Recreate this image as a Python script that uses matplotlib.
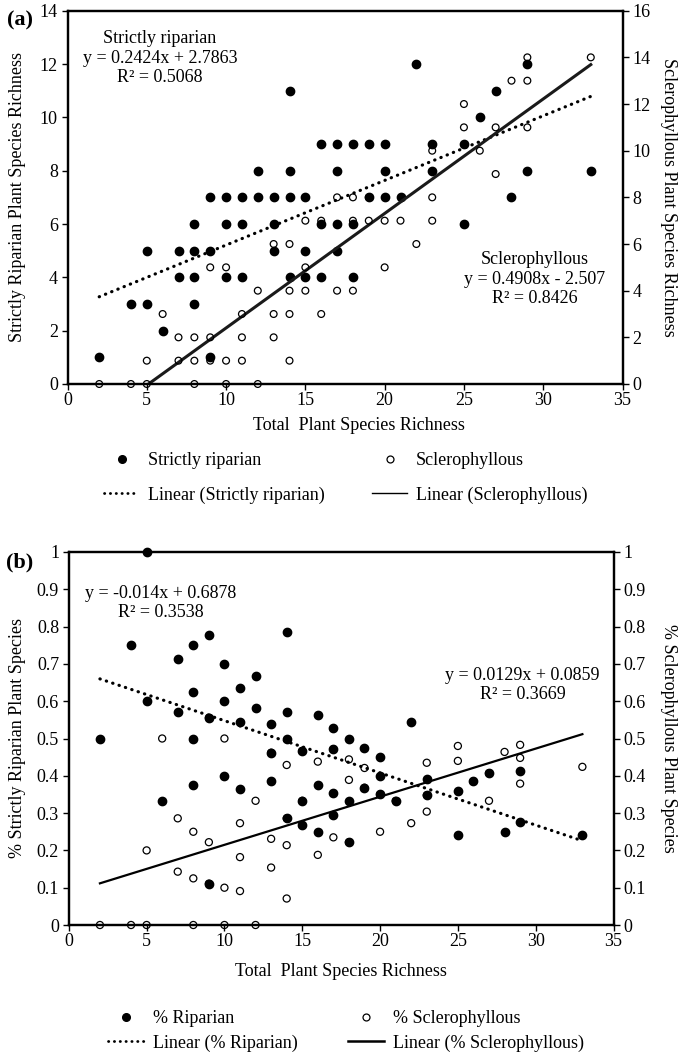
import matplotlib
matplotlib.use('Agg')
import matplotlib.pyplot as plt
from matplotlib.lines import Line2D
from matplotlib.ticker import MultipleLocator, FuncFormatter

plt.rcParams['font.family'] = ['Liberation Serif', 'DejaVu Serif']
plt.rcParams['font.size'] = 13
plt.rcParams['text.color'] = 'black'

# ---------------- data ----------------
# strictly riparian: total richness, riparian count, proportion riparian
x_rip = [2, 4, 5, 5, 6, 7, 7, 8, 8, 8, 8, 9, 9, 9, 10, 10, 10, 11, 11, 11,
         12, 12, 13, 13, 13, 14, 14, 14, 14, 15, 15, 15, 16, 16, 16,
         17, 17, 17, 17, 18, 18, 18, 19, 19, 20, 20, 20, 21, 22, 23, 23,
         25, 25, 26, 27, 28, 29, 29, 33]
rip_count = [1, 3, 5, 3, 2, 5, 4, 6, 5, 4, 3, 7, 5, 1, 7, 6, 4, 7, 6, 4,
             8, 7, 7, 6, 5, 11, 8, 7, 4, 7, 5, 4, 9, 6, 4,
             9, 8, 6, 5, 9, 6, 4, 9, 7, 9, 8, 7, 7, 12, 9, 8,
             9, 6, 10, 11, 7, 12, 8, 8]
rip_pct = [0.5, 0.75, 1.0, 0.6, 0.333, 0.714, 0.571, 0.75, 0.625, 0.5, 0.375,
           0.778, 0.556, 0.111, 0.7, 0.6, 0.4, 0.636, 0.545, 0.364,
           0.667, 0.583, 0.538, 0.462, 0.385, 0.786, 0.571, 0.5, 0.286,
           0.467, 0.333, 0.267, 0.563, 0.375, 0.25,
           0.529, 0.471, 0.353, 0.294, 0.5, 0.333, 0.222, 0.474, 0.368,
           0.45, 0.4, 0.35, 0.333, 0.545, 0.391, 0.348,
           0.36, 0.24, 0.385, 0.407, 0.25, 0.414, 0.276, 0.242]

# sclerophyllous: total richness, sclerophyllous count, proportion sclerophyllous
x_scl = [2, 4, 5, 5, 6, 7, 7, 8, 8, 8, 9, 9, 9, 10, 10, 10, 11, 11, 11,
         12, 12, 13, 13, 13, 14, 14, 14, 14, 15, 15, 15, 16, 16, 17, 17,
         18, 18, 18, 19, 19, 20, 20, 21, 22, 23, 23, 23, 25, 25, 26,
         27, 27, 28, 29, 29, 29, 33]
scl_count = [0, 0, 1, 0, 3, 2, 1, 2, 1, 0, 5, 2, 1, 5, 1, 0, 3, 2, 1,
             4, 0, 6, 3, 2, 6, 4, 3, 1, 7, 5, 4, 7, 3, 8, 4,
             8, 7, 4, 8, 7, 7, 5, 7, 6, 10, 8, 7, 12, 11, 10,
             11, 9, 13, 14, 13, 11, 14]
scl_pct = [0, 0, 0.2, 0, 0.5, 0.286, 0.143, 0.25, 0.125, 0, 0.556, 0.222, 0.111,
           0.5, 0.1, 0, 0.273, 0.182, 0.091, 0.333, 0, 0.462, 0.231, 0.154,
           0.429, 0.286, 0.214, 0.071, 0.467, 0.333, 0.267, 0.438, 0.188,
           0.471, 0.235, 0.444, 0.389, 0.222, 0.421, 0.368, 0.35, 0.25,
           0.333, 0.273, 0.435, 0.348, 0.304, 0.48, 0.44, 0.385,
           0.407, 0.333, 0.464, 0.483, 0.448, 0.379, 0.424]

# linear trend lines (slope, intercept) shown on the chart
trend_x = [2, 33]
fit_a_rip = (0.2424, 2.7863)
fit_a_scl = (0.4908, -2.507)
fit_b_rip = (-0.014, 0.6878)
fit_b_scl = (0.0129, 0.0859)

x_ticks = [0, 5, 10, 15, 20, 25, 30, 35]

W, H = 684, 1056
fig = plt.figure(figsize=(W / 100, H / 100), dpi=100)


def line_vals(fit):
    return [fit[0] * v + fit[1] for v in trend_x]


def style(ax, ax2):
    for a in (ax, ax2):
        for s in a.spines.values():
            s.set_linewidth(1.6)
            s.set_color('black')
    ax.tick_params(axis='y', direction='out', length=4, width=1.0, pad=3, labelsize=13)
    ax.tick_params(axis='x', direction='out', length=4, width=1.0, pad=1.5, labelsize=13)
    ax2.tick_params(axis='y', direction='out', length=4, width=1.0, pad=3, labelsize=13)
    ax.set_xlim(0, 35)
    ax.set_xticks(x_ticks)


DOT = (0, (0.1, 2.0))
fmt = FuncFormatter(lambda v, p: '%g' % round(v, 2))

# ---------------- panel (a) ----------------
axA = fig.add_axes([67.5 / W, 1 - 384 / H, 555 / W, 373.3 / H])
axA2 = axA.twinx()
style(axA, axA2)
axA.set_ylim(0, 14)
axA.yaxis.set_major_locator(MultipleLocator(2))
axA2.set_ylim(0, 16)
axA2.yaxis.set_major_locator(MultipleLocator(2))

axA.scatter(x_rip, rip_count, s=36, color='black', zorder=3, clip_on=False)
axA.plot(trend_x, line_vals(fit_a_rip), color='black', lw=2.3, ls=DOT,
         dash_capstyle='round', zorder=2)
axA2.scatter(x_scl, scl_count, s=24, facecolors='none', edgecolors='black',
             linewidths=0.9, zorder=3, clip_on=False)
axA2.plot(trend_x, line_vals(fit_a_scl), color='#1a1a1a', lw=2.2, zorder=2)

axA.text(0.1667, 0.873, 'Strictly riparian\ny = 0.2424x + 2.7863\nR\u00b2 = 0.5068',
         transform=axA.transAxes, ha='center', va='center', fontsize=13,
         linespacing=1.2)
axA.text(0.8423, 0.2805, 'Sclerophyllous\ny = 0.4908x - 2.507\nR\u00b2 = 0.8426',
         transform=axA.transAxes, ha='center', va='center', fontsize=13,
         linespacing=1.2)

fig.text(20 / W, 1 - 20 / H, '(a)', fontsize=16, fontweight='bold', ha='center', va='center')
fig.text(18 / W, 1 - 197 / H, 'Strictly Riparian Plant Species Richness', rotation=90,
         ha='center', va='center', fontsize=13)
fig.text(668 / W, 1 - 197 / H, 'Sclerophyllous Plant Species Richness', rotation=270,
         ha='center', va='center', fontsize=13)
fig.text(359 / W, 1 - 425 / H, 'Total  Plant Species Richness', ha='center', va='center',
         fontsize=13)

hA = [Line2D([], [], ls='none', marker='o', ms=5.5, color='black'),
      Line2D([], [], color='black', lw=2.0, ls=DOT, dash_capstyle='round'),
      Line2D([], [], ls='none', marker='o', ms=5, mfc='none', mec='black', mew=0.9),
      Line2D([], [], color='black', lw=1.0)]
lA = ['Strictly riparian', 'Linear (Strictly riparian)', 'Sclerophyllous',
      'Linear (Sclerophyllous)']
fig.legend(hA, lA, ncol=2, loc='center left', bbox_to_anchor=(104 / W, 1 - 478 / H),
           frameon=False, borderpad=0, borderaxespad=0, handlelength=1.95,
           handletextpad=0.5, labelspacing=0.96, columnspacing=2.6, fontsize=13)

# ---------------- panel (b) ----------------
axB = fig.add_axes([68.8 / W, 1 - 925 / H, 544.7 / W, 373 / H])
axB2 = axB.twinx()
style(axB, axB2)
for a in (axB, axB2):
    a.set_ylim(0, 1)
    a.yaxis.set_major_locator(MultipleLocator(0.1))
    a.yaxis.set_major_formatter(fmt)

axB.scatter(x_rip, rip_pct, s=36, color='black', zorder=3, clip_on=False)
axB.plot(trend_x, line_vals(fit_b_rip), color='black', lw=2.3, ls=DOT,
         dash_capstyle='round', zorder=2)
axB.scatter(x_scl, scl_pct, s=26, facecolors='none', edgecolors='black',
            linewidths=0.9, zorder=3, clip_on=False)
axB.plot(trend_x, line_vals(fit_b_scl), color='black', lw=1.6, zorder=2)

axB.text(0.169, 0.8633, 'y = -0.014x + 0.6878\nR\u00b2 = 0.3538',
         transform=axB.transAxes, ha='center', va='center', fontsize=13, linespacing=1.2)
axB.text(0.833, 0.6434, 'y = 0.0129x + 0.0859\nR\u00b2 = 0.3669',
         transform=axB.transAxes, ha='center', va='center', fontsize=13, linespacing=1.2)

fig.text(20 / W, 1 - 562 / H, '(b)', fontsize=16, fontweight='bold', ha='center', va='center')
fig.text(18 / W, 1 - 738 / H, '% Strictly Riparian Plant Species', rotation=90,
         ha='center', va='center', fontsize=13)
fig.text(668 / W, 1 - 738 / H, '% Sclerophyllous Plant Species', rotation=270,
         ha='center', va='center', fontsize=13)
fig.text(341 / W, 1 - 972 / H, 'Total  Plant Species Richness', ha='center', va='center',
         fontsize=13)

hB = [Line2D([], [], ls='none', marker='o', ms=5.5, color='black'),
      Line2D([], [], color='black', lw=2.0, ls=DOT, dash_capstyle='round'),
      Line2D([], [], ls='none', marker='o', ms=5, mfc='none', mec='black', mew=0.9),
      Line2D([], [], color='black', lw=1.8)]
lB = ['% Riparian', 'Linear (% Riparian)', '% Sclerophyllous', 'Linear (% Sclerophyllous)']
fig.legend(hB, lB, ncol=2, loc='center left', bbox_to_anchor=(108 / W, 1 - 1031 / H),
           frameon=False, borderpad=0, borderaxespad=0, handlelength=2.0,
           handletextpad=0.5, labelspacing=0.4, columnspacing=2.75, fontsize=13)

fig.savefig('out.png', dpi=100)
